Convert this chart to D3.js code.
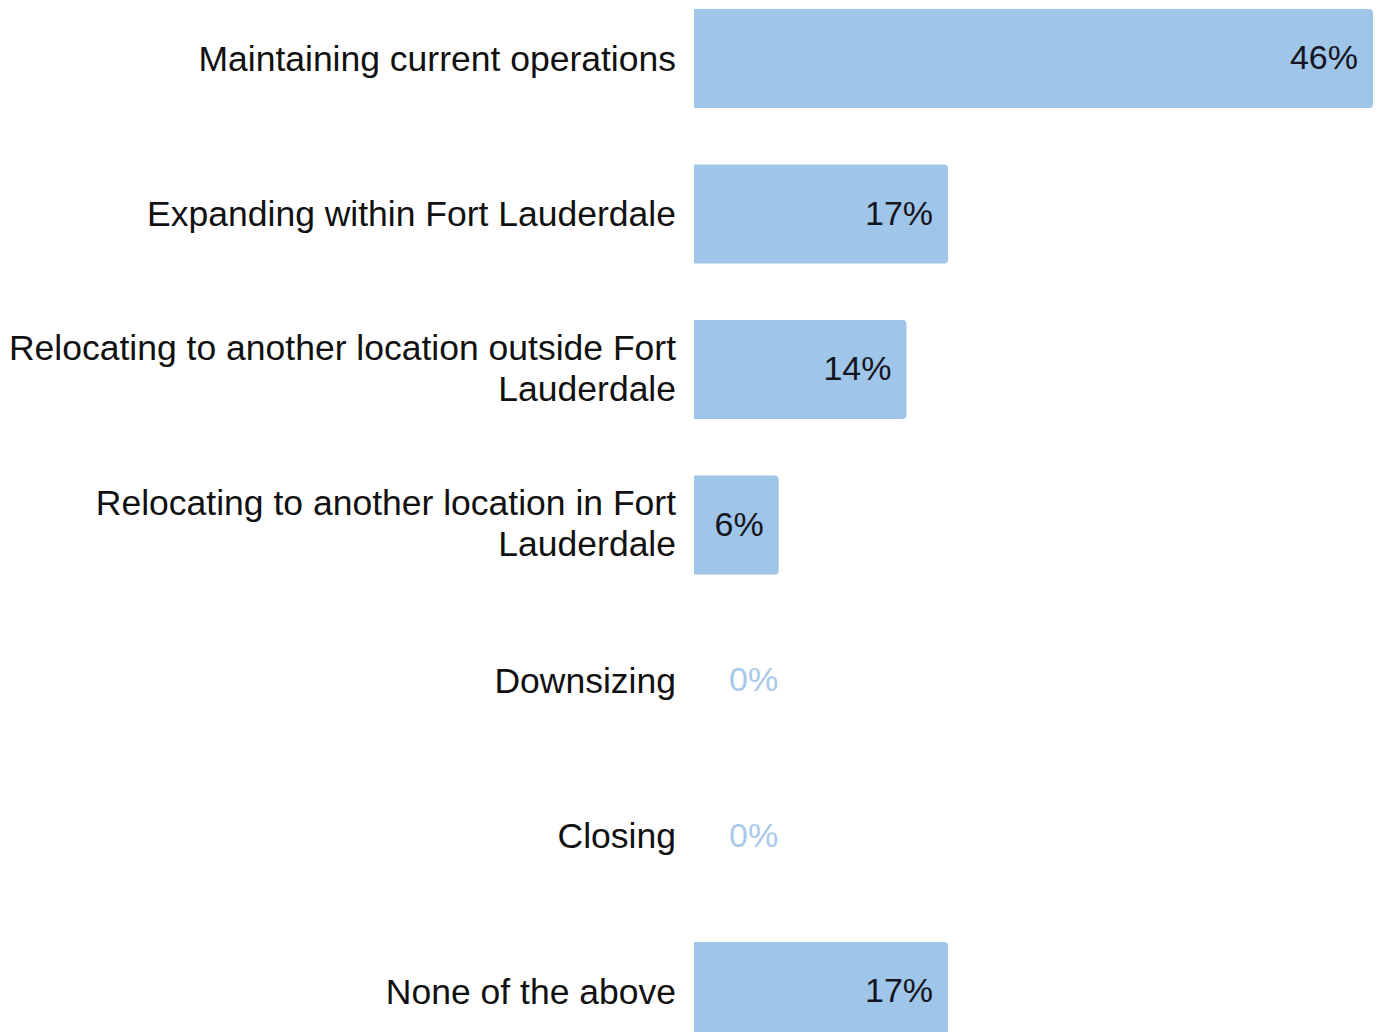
<!DOCTYPE html>
<html>
<head>
<meta charset="utf-8">
<script src="https://cdn.jsdelivr.net/npm/d3@7/dist/d3.min.js"></script>
<style>
  html, body { margin: 0; padding: 0; background: #ffffff; }
  svg { display: block; }
  text { font-family: "Liberation Sans", Arial, sans-serif; }
</style>
</head>
<body>
<svg id="chart" width="1380" height="1032"></svg>
<script>
const categories = [
  ["Maintaining current operations"],
  ["Expanding within Fort Lauderdale"],
  ["Relocating to another location outside Fort", "Lauderdale"],
  ["Relocating to another location in Fort", "Lauderdale"],
  ["Downsizing"],
  ["Closing"],
  ["None of the above"]
];
const values = [45.7, 17.1, 14.3, 5.7, 0, 0, 17.1];
const valueLabels = ["46%", "17%", "14%", "6%", "0%", "0%", "17%"];

const W = 1380, H = 1032;
const barColor = "#9fc5e8";
const labelSize = 35.5;
const valueSize = 34;

const svg = d3.select("#chart");
const ids = d3.range(categories.length);

const y = d3.scaleBand().domain(ids).range([-19.2, 1069.3])
  .paddingInner(0.3634).paddingOuter(0.1817);
const x = d3.scaleLinear().domain([0, 45.7]).range([694, 1373]);

function barPath(x0, x1, y0, h, r) {
  const w = x1 - x0;
  if (w <= 0) return "";
  r = Math.min(r, w / 2, h / 2);
  return `M${x0},${y0}H${x1 - r}Q${x1},${y0} ${x1},${y0 + r}V${y0 + h - r}Q${x1},${y0 + h} ${x1 - r},${y0 + h}H${x0}Z`;
}

svg.append("g").selectAll("path").data(ids).join("path")
  .attr("d", i => barPath(x(0), x(values[i]), y(i), y.bandwidth(), 4))
  .attr("fill", barColor);

// category labels
const lab = svg.append("g");
ids.forEach(i => {
  const lines = categories[i];
  const cy = y(i) + y.bandwidth() / 2;
  const lh = 41;
  const t = lab.append("text")
    .attr("text-anchor", "end")
    .attr("font-size", labelSize)
    .attr("fill", "#111");
  lines.forEach((ln, k) => {
    t.append("tspan")
      .attr("x", 676)
      .attr("y", cy + (k - (lines.length - 1) / 2) * lh - (lines.length > 1 ? 1.5 : 0))
      .attr("dy", "0.34em")
      .text(ln);
  });
});

// value labels
svg.append("g").selectAll("text").data(ids).join("text")
  .attr("x", i => values[i] > 0 ? x(values[i]) - 15 : x(0) + 35)
  .attr("y", i => y(i) + y.bandwidth() / 2)
  .attr("dy", "0.32em")
  .attr("text-anchor", i => values[i] > 0 ? "end" : "start")
  .attr("font-size", valueSize)
  .attr("fill", i => values[i] > 0 ? "#151522" : "#a9c9ea")
  .text(i => valueLabels[i]);
</script>
</body>
</html>
